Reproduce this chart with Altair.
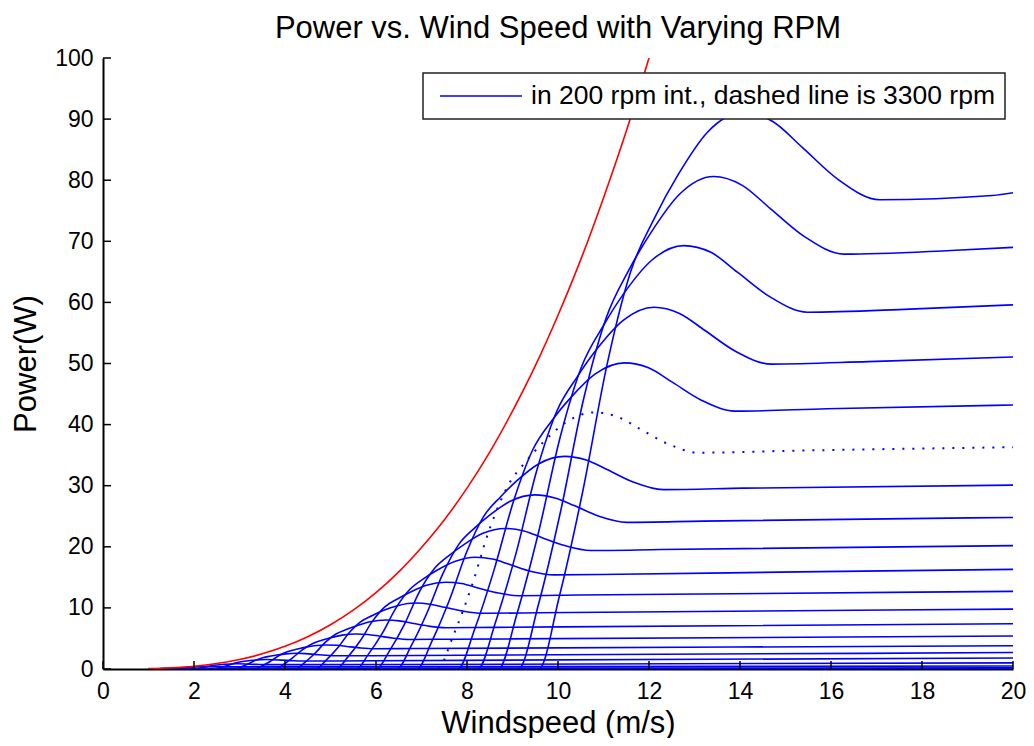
import altair as alt
import pandas as pd

FONT = "Liberation Sans"
TITLE = "Power vs. Wind Speed with Varying RPM"
X_TITLE = "Windspeed (m/s)"
Y_TITLE = "Power(W)"
LEGEND_LABEL = "in 200 rpm int., dashed line is 3300 rpm"
DASHED_RPM = 3300

x_ticks = [0, 2, 4, 6, 8, 10, 12, 14, 16, 18, 20]
y_ticks = [0, 10, 20, 30, 40, 50, 60, 70, 80, 90, 100]

# red curve (speed m/s, power W)
red_speed = [1.0, 1.5, 2.0, 2.5, 3.0, 3.5, 4.0, 4.5, 5.0, 5.5, 6.0, 6.5, 7.0, 7.5,
             8.0, 8.5, 9.0, 9.5, 10.0, 10.5, 11.0, 11.5, 12.0, 12.3]
red_power = [0.06, 0.2, 0.46, 0.9, 1.56, 2.48, 3.71, 5.28, 7.24, 9.63, 12.5, 15.9, 19.9, 24.4,
             29.6, 35.5, 42.2, 49.6, 57.9, 67.0, 77.1, 88.0, 100.0, 107.5]

# blue curves, one list of (speed, power) pairs per rpm
rpm_4300 = [(1.0, 0), (9.58, 0), (10.03, 11.9), (10.55, 29.3), (11.08, 49.9), (11.6, 65.1), (12.12, 73.8),
            (12.64, 80.9), (13.29, 87.9), (14.07, 91.1), (14.72, 89.6), (15.38, 85.3), (16.16, 80.1),
            (17.07, 76.8), (19.55, 77.5), (20.0, 77.95)]
rpm_4100 = [(1.0, 0), (9.13, 0), (9.57, 10.55), (10.06, 25.9), (10.56, 44.1), (11.06, 57.5), (11.55, 65.2),
            (12.05, 71.5), (12.67, 77.7), (13.42, 80.6), (14.04, 79.2), (14.66, 75.4), (15.41, 70.8),
            (16.28, 67.9), (18.64, 68.5), (20.0, 69.0)]
rpm_3900 = [(1.0, 0), (8.69, 0), (9.1, 9.08), (9.57, 22.3), (10.05, 38.0), (10.52, 49.5), (10.99, 56.1),
            (11.46, 61.6), (12.06, 66.9), (12.76, 69.3), (13.36, 68.2), (13.95, 64.9), (14.66, 60.9),
            (15.48, 58.4), (17.73, 58.9), (20.0, 59.6)]
rpm_3700 = [(1.0, 0), (8.24, 0), (8.63, 7.75), (9.08, 19.0), (9.53, 32.4), (9.98, 42.3), (10.43, 47.9),
            (10.88, 52.6), (11.44, 57.1), (12.11, 59.2), (12.67, 58.2), (13.23, 55.4), (13.9, 52.0),
            (14.69, 49.9), (16.82, 50.3), (20.0, 51.06)]
rpm_3500 = [(1.0, 0), (7.8, 0), (8.17, 6.56), (8.59, 16.1), (9.02, 27.4), (9.44, 35.8), (9.86, 40.6),
            (10.29, 44.5), (10.82, 48.3), (11.46, 50.1), (11.99, 49.3), (12.52, 46.9), (13.15, 44.0),
            (13.89, 42.2), (15.91, 42.6), (20.0, 43.2)]
rpm_3300 = [(1.0, 0), (7.35, 0), (7.7, 5.5), (8.1, 13.5), (8.5, 23.0), (8.9, 30.0), (9.3, 34.0),
            (9.7, 37.3), (10.2, 40.5), (10.8, 42.0), (11.3, 41.3), (11.8, 39.3), (12.4, 36.9),
            (13.1, 35.4), (15.0, 35.7), (20.0, 36.3)]
rpm_3100 = [(1.0, 0), (6.9, 0), (7.23, 4.56), (7.61, 11.2), (7.99, 19.1), (8.36, 24.9), (8.74, 28.2),
            (9.11, 30.9), (9.58, 33.6), (10.15, 34.8), (10.62, 34.2), (11.09, 32.6), (11.65, 30.6),
            (12.31, 29.35), (14.09, 29.6), (20.0, 30.1)]
rpm_2900 = [(1.0, 0), (6.46, 0), (6.77, 3.73), (7.12, 9.16), (7.47, 15.6), (7.82, 20.4), (8.17, 23.1),
            (8.52, 25.3), (8.96, 27.5), (9.49, 28.5), (9.93, 28.0), (10.37, 26.7), (10.9, 25.0),
            (11.51, 24.0), (13.18, 24.2), (20.0, 24.8)]
rpm_2700 = [(1.0, 0), (6.01, 0), (6.3, 3.01), (6.63, 7.39), (6.95, 12.6), (7.28, 16.4), (7.61, 18.6),
            (7.94, 20.4), (8.35, 22.2), (8.84, 23.0), (9.25, 22.6), (9.65, 21.5), (10.15, 20.2),
            (10.72, 19.4), (12.27, 19.55), (20.0, 20.2)]
rpm_2500 = [(1.0, 0), (5.57, 0), (5.83, 2.39), (6.14, 5.87), (6.44, 10.0), (6.74, 13.0), (7.05, 14.8),
            (7.35, 16.2), (7.73, 17.6), (8.18, 18.3), (8.56, 18.0), (8.94, 17.1), (9.39, 16.0),
            (9.92, 15.4), (11.36, 15.5), (15.3, 15.9), (20.0, 16.3)]
rpm_2300 = [(1.0, 0), (5.12, 0), (5.37, 1.86), (5.65, 4.57), (5.92, 7.79), (6.2, 10.2), (6.48, 11.5),
            (6.76, 12.6), (7.11, 13.7), (7.53, 14.2), (7.88, 14.0), (8.22, 13.3), (8.64, 12.5),
            (9.13, 12.0), (10.45, 12.1), (20.0, 12.7)]
rpm_2100 = [(1.0, 0), (4.68, 0), (4.9, 1.42), (5.16, 3.48), (5.41, 5.93), (5.66, 7.73), (5.92, 8.76),
            (6.17, 9.61), (6.49, 10.4), (6.87, 10.8), (7.19, 10.6), (7.51, 10.1), (7.89, 9.51),
            (8.34, 9.12), (9.55, 9.2), (20.0, 9.8)]
rpm_1900 = [(1.0, 0), (4.23, 0), (4.43, 1.05), (4.66, 2.58), (4.89, 4.39), (5.12, 5.73), (5.36, 6.49),
            (5.59, 7.12), (5.87, 7.73), (6.22, 8.02), (6.51, 7.88), (6.79, 7.5), (7.14, 7.04),
            (7.54, 6.76), (8.64, 6.82), (20.0, 7.4)]
rpm_1700 = [(1.0, 0), (3.79, 0), (3.97, 0.75), (4.17, 1.85), (4.38, 3.14), (4.59, 4.1), (4.79, 4.65),
            (5.0, 5.1), (5.26, 5.54), (5.56, 5.74), (5.82, 5.65), (6.08, 5.37), (6.39, 5.04),
            (6.75, 4.84), (7.73, 4.88), (20.0, 5.4)]
rpm_1500 = [(1.0, 0), (3.34, 0), (3.5, 0.52), (3.68, 1.27), (3.86, 2.16), (4.05, 2.82), (4.23, 3.19),
            (4.41, 3.5), (4.64, 3.8), (4.91, 3.94), (5.14, 3.88), (5.36, 3.69), (5.64, 3.46),
            (5.95, 3.32), (6.82, 3.35), (20.0, 3.8)]
rpm_1300 = [(1.0, 0), (2.9, 0), (3.03, 0.34), (3.19, 0.82), (3.35, 1.41), (3.51, 1.83), (3.66, 2.08),
            (3.82, 2.28), (4.02, 2.47), (4.26, 2.57), (4.45, 2.52), (4.65, 2.4), (4.89, 2.25),
            (5.16, 2.16), (5.91, 2.18), (20.0, 2.7)]
rpm_1100 = [(1.0, 0), (2.45, 0), (2.7, 0.5), (2.97, 1.11), (3.23, 1.38), (3.6, 1.55), (4.13, 1.37),
            (4.37, 1.31), (5.0, 1.32), (20.0, 1.8)]
rpm_900 = [(1.0, 0), (2.0, 0), (2.21, 0.27), (2.43, 0.61), (2.65, 0.76), (2.95, 0.85), (3.38, 0.75),
           (3.57, 0.72), (4.09, 0.72), (20.0, 1.0)]
rpm_700 = [(1.0, 0), (1.56, 0), (1.72, 0.13), (1.89, 0.29), (2.06, 0.36), (2.29, 0.4), (2.63, 0.35),
           (2.78, 0.34), (3.18, 0.34), (20.0, 0.5)]
rpm_500 = [(1.0, 0), (1.11, 0), (1.23, 0.05), (1.35, 0.1), (1.47, 0.13), (1.64, 0.15), (1.88, 0.13),
           (1.99, 0.12), (2.27, 0.12), (20.0, 0.2)]
rpm_300 = [(1.0, 0.03), (1.36, 0.03), (20.0, 0.05)]
rpm_100 = [(1.0, 0.0), (20.0, 0.0)]

curves = [
    (100, rpm_100), (300, rpm_300), (500, rpm_500), (700, rpm_700), (900, rpm_900),
    (1100, rpm_1100), (1300, rpm_1300), (1500, rpm_1500), (1700, rpm_1700), (1900, rpm_1900),
    (2100, rpm_2100), (2300, rpm_2300), (2500, rpm_2500), (2700, rpm_2700), (2900, rpm_2900),
    (3100, rpm_3100), (3300, rpm_3300), (3500, rpm_3500), (3700, rpm_3700), (3900, rpm_3900),
    (4100, rpm_4100), (4300, rpm_4300),
]

rows = []
for rpm, pts in curves:
    for i, (v, p) in enumerate(pts):
        rows.append({"rpm": rpm, "idx": i, "speed": v, "power": p, "label": LEGEND_LABEL})
df = pd.DataFrame(rows)
solid_df = df[df["rpm"] != DASHED_RPM]
dashed_df = df[df["rpm"] == DASHED_RPM]
red_df = pd.DataFrame({"speed": red_speed, "power": red_power, "idx": list(range(len(red_speed)))})
xt_df = pd.DataFrame({"speed": x_ticks})
yt_df = pd.DataFrame({"power": y_ticks})

W, H = 910, 611
xscale = alt.Scale(domain=[0, 20], nice=False, zero=False)
yscale = alt.Scale(domain=[0, 100], nice=False, zero=False)

X = alt.X("speed:Q", scale=xscale,
          axis=alt.Axis(values=x_ticks, title=X_TITLE, labelFlush=False, labelPadding=11,
                        titlePadding=5, ticks=False, grid=False))
Y = alt.Y("power:Q", scale=yscale,
          axis=alt.Axis(values=y_ticks, title=Y_TITLE, labelFlush=False, labelPadding=10,
                        titlePadding=12, ticks=False, grid=False))

solid = alt.Chart(solid_df).mark_line(strokeWidth=1.6, clip=True, interpolate="monotone").encode(
    x=X, y=Y, detail="rpm:N", order="idx:Q",
    color=alt.Color("label:N",
                    scale=alt.Scale(domain=[LEGEND_LABEL], range=["#0000ff"]),
                    legend=alt.Legend(title=None, orient="none", legendX=320, legendY=15,
                                      symbolType="stroke", symbolSize=6724, symbolStrokeWidth=1.6,
                                      clipHeight=28, labelFontSize=26.5, labelFont=FONT,
                                      labelColor="black", labelLimit=1000, padding=9,
                                      fillColor="white", strokeColor="#222222",
                                      symbolOffset=7, labelOffset=8, zindex=2)),
)

dashed = alt.Chart(dashed_df).mark_line(strokeWidth=2, strokeDash=[2, 8], color="#0000ff",
                                        clip=True, interpolate="monotone").encode(
    x=X, y=Y, order="idx:Q")

red = alt.Chart(red_df).mark_line(strokeWidth=1.6, color="#ff0000", clip=True,
                                  interpolate="monotone").encode(x=X, y=Y, order="idx:Q")

xticks = alt.Chart(xt_df).mark_rule(color="black", strokeWidth=1.5).encode(
    x=X, y=alt.value(H), y2=alt.value(H - 8))
yticks = alt.Chart(yt_df).mark_rule(color="black", strokeWidth=1.5).encode(
    y=Y, x=alt.value(0), x2=alt.value(8))

chart = alt.layer(solid, dashed, red, xticks, yticks).properties(
    width=W, height=H,
    title=alt.TitleParams(text=TITLE, fontSize=31, font=FONT, fontWeight="normal",
                          color="black", anchor="middle", offset=2),
    padding={"left": 95, "top": 50, "right": 13, "bottom": 69},
    autosize=alt.AutoSizeParams(type="none"),
).configure_axis(
    labelFont=FONT, titleFont=FONT, labelFontSize=23, titleFontSize=31,
    labelColor="black", titleColor="black", titleFontWeight="normal",
    domainColor="black", domainWidth=2,
).configure_legend(
    strokeWidth=1.5,
).configure_view(strokeWidth=0)

chart.save("out.html", embed_options={"renderer": "svg", "actions": False})
